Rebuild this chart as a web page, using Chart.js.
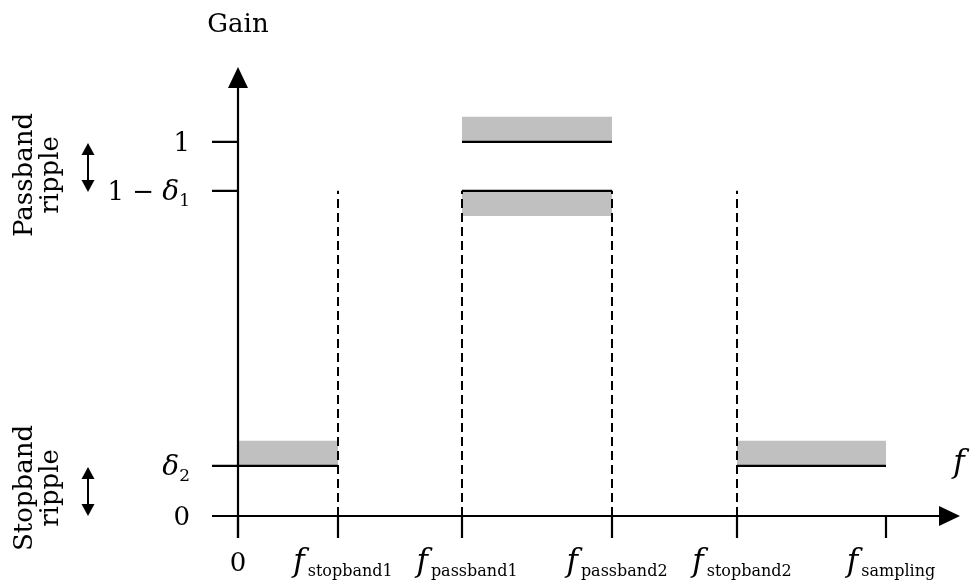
<!DOCTYPE html>
<html lang="en">
<head>
    <meta charset="UTF-8">
    <title>Filter gain specification</title>
<style>
    html, body { margin: 0; padding: 0; background: #ffffff; }
    #spec-container { width: 976px; height: 585px; position: relative; }
</style>
</head>
<body>
    <div id="spec-container">
        <canvas id="spec-chart"></canvas>
    </div>

    <script src="https://cdn.jsdelivr.net/npm/chart.js"></script>
    <script>
        // frequency positions (arbitrary units) and gain levels
        const xTicks = [0, 1.0, 2.24, 3.74, 4.99, 6.48];
        const xTickSubs = ['', 'stopband1', 'passband1', 'passband2', 'stopband2', 'sampling'];
        const yTicks = [0, 0.134, 0.869, 1.0];

        // response levels (solid lines)
        const levelFrom = [0, 2.24, 2.24, 4.99];
        const levelTo = [1.0, 3.74, 3.74, 6.48];
        const levelGain = [0.134, 1.0, 0.869, 0.134];

        // tolerance bands (grey)
        const bandFrom = [0, 2.24, 2.24, 4.99];
        const bandTo = [1.0, 3.74, 3.74, 6.48];
        const bandLow = [0.134, 1.0, 0.802, 0.134];
        const bandHigh = [0.201, 1.067, 0.869, 0.201];

        // band edges (dashed)
        const edgeX = [1.0, 2.24, 3.74, 4.99];
        const edgeTop = 0.869;

        const xMax = 7.22;
        const yMax = 1.2;
        const serif = '"DejaVu Serif", "Liberation Serif", serif';

        const datasets = [];
        levelGain.forEach((g, i) => {
            datasets.push({
                data: [{ x: levelFrom[i], y: g }, { x: levelTo[i], y: g }],
                borderColor: '#000', borderWidth: 2.2, order: 1
            });
        });
        edgeX.forEach(x => {
            datasets.push({
                data: [{ x: x, y: 0 }, { x: x, y: edgeTop }],
                borderColor: '#000', borderWidth: 2, borderDash: [9, 5], order: 1
            });
        });
        bandLow.forEach((lo, i) => {
            datasets.push({
                data: [{ x: bandFrom[i], y: bandHigh[i] }, { x: bandTo[i], y: bandHigh[i] }],
                borderWidth: 0, borderColor: 'rgba(0,0,0,0)',
                backgroundColor: '#c0c0c0',
                fill: { value: lo }, order: 3
            });
        });

        function arrowHead(ctx, x, y, dir, len, half) {
            ctx.beginPath();
            if (dir === 'up') { ctx.moveTo(x, y); ctx.lineTo(x - half, y + len); ctx.lineTo(x + half, y + len); }
            if (dir === 'down') { ctx.moveTo(x, y); ctx.lineTo(x - half, y - len); ctx.lineTo(x + half, y - len); }
            if (dir === 'right') { ctx.moveTo(x, y); ctx.lineTo(x - len, y - half); ctx.lineTo(x - len, y + half); }
            ctx.closePath();
            ctx.fill();
        }

        // draw a run of text segments, returns width
        function runText(ctx, parts, x, y, measureOnly) {
            let cx = x;
            parts.forEach(p => {
                ctx.font = (p.italic ? 'italic ' : '') + p.size + 'px ' + serif;
                cx += p.gap || 0;
                if (!measureOnly) ctx.fillText(p.t, cx, y + (p.dy || 0));
                cx += ctx.measureText(p.t).width;
            });
            return cx - x;
        }

        function doubleArrow(ctx, x, y1, y2) {
            ctx.lineWidth = 2;
            ctx.beginPath();
            ctx.moveTo(x, y1 + 10);
            ctx.lineTo(x, y2 - 10);
            ctx.stroke();
            arrowHead(ctx, x, y1, 'up', 12, 6.5);
            arrowHead(ctx, x, y2, 'down', 12, 6.5);
        }

        const axesPlugin = {
            id: 'axesPlugin',
            afterDraw(chart) {
                const ctx = chart.ctx;
                const xs = chart.scales.x, ys = chart.scales.y;
                const x0 = xs.getPixelForValue(0), y0 = ys.getPixelForValue(0);
                const xEnd = xs.getPixelForValue(xMax), yEnd = ys.getPixelForValue(yMax);
                ctx.save();
                ctx.strokeStyle = '#000';
                ctx.fillStyle = '#000';
                ctx.lineWidth = 2.2;

                // axes
                ctx.beginPath();
                ctx.moveTo(x0, y0 + 22); ctx.lineTo(x0, yEnd + 18);
                ctx.moveTo(x0 - 26, y0); ctx.lineTo(xEnd - 18, y0);
                ctx.stroke();
                arrowHead(ctx, x0, yEnd, 'up', 21, 10);
                arrowHead(ctx, xEnd, y0, 'right', 21, 10);

                // tick marks
                ctx.beginPath();
                yTicks.forEach(v => { const p = ys.getPixelForValue(v); ctx.moveTo(x0 - 26, p); ctx.lineTo(x0, p); });
                xTicks.forEach(v => { const p = xs.getPixelForValue(v); ctx.moveTo(p, y0); ctx.lineTo(p, y0 + 22); });
                ctx.stroke();

                ctx.textBaseline = 'alphabetic';
                ctx.textAlign = 'left';

                // y tick labels
                const yLabels = [
                    [{ t: '0', size: 26 }],
                    [{ t: 'δ', size: 28, italic: true }, { t: '2', size: 17, dy: 6 }],
                    [{ t: '1 − ', size: 26 }, { t: 'δ', size: 28, italic: true }, { t: '1', size: 17, dy: 6 }],
                    [{ t: '1', size: 26 }]
                ];
                yTicks.forEach((v, i) => {
                    const p = ys.getPixelForValue(v);
                    const w = runText(ctx, yLabels[i], 0, 0, true);
                    runText(ctx, yLabels[i], 190 - w, p + 9, false);
                });

                // x tick labels
                xTicks.forEach((v, i) => {
                    const p = xs.getPixelForValue(v);
                    const parts = xTickSubs[i] === ''
                        ? [{ t: '0', size: 26 }]
                        : [{ t: 'f', size: 31, italic: true }, { t: xTickSubs[i], size: 16, dy: 5, gap: 3 }];
                    const w = runText(ctx, parts, 0, 0, true);
                    runText(ctx, parts, p - w / 2 + (i ? 5 : 0), 571, false);
                });

                // axis titles
                ctx.font = '26px ' + serif;
                ctx.textAlign = 'center';
                ctx.fillText('Gain', x0, 32);
                ctx.font = 'italic 31px ' + serif;
                ctx.fillText('f', 959, 472);

                // ripple annotations
                ctx.font = '26px ' + serif;
                [['Passband', 175, 32], ['ripple', 175, 58], ['Stopband', 488, 32], ['ripple', 488, 58]].forEach(([t, cy, cx]) => {
                    ctx.save();
                    ctx.translate(cx, cy);
                    ctx.rotate(-Math.PI / 2);
                    ctx.fillText(t, 0, 0);
                    ctx.restore();
                });
                doubleArrow(ctx, 88, 143, 192);
                doubleArrow(ctx, 88, 467, 516);

                ctx.restore();
            }
        };

        new Chart(document.getElementById('spec-chart').getContext('2d'), {
            type: 'scatter',
            data: { datasets: datasets },
            options: {
                responsive: true,
                maintainAspectRatio: false,
                animation: false,
                showLine: true,
                elements: { point: { radius: 0, hoverRadius: 0 }, line: { tension: 0 } },
                layout: { padding: { left: 238, right: 976 - 238 - xMax * 100, top: 67, bottom: 69 } },
                scales: {
                    x: { type: 'linear', min: 0, max: xMax, display: false },
                    y: { type: 'linear', min: 0, max: yMax, display: false }
                },
                plugins: {
                    legend: { display: false },
                    tooltip: { enabled: false }
                }
            },
            plugins: [axesPlugin]
        });
    </script>
</body>
</html>
